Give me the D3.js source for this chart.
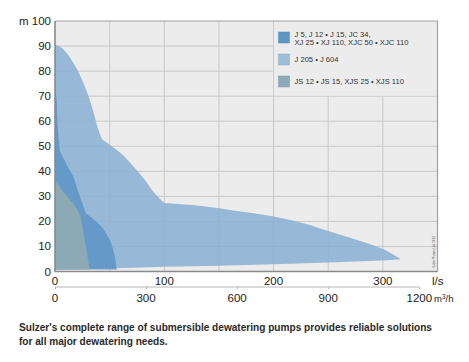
<!DOCTYPE html>
<html>
<head>
<meta charset="utf-8">
<script src="https://cdn.jsdelivr.net/npm/d3@7"></script>
<style>
  body { margin: 0; background: #fff; }
  text { font-family: "Liberation Sans", Arial, Helvetica, sans-serif; fill: #222; }
</style>
</head>
<body>
<div id="chart"></div>
<script>
// flow in l/s, head in m; upper edges split at their kinks
const lightUpperQ = [[0, 5, 10, 15, 20, 25, 30, 35, 39, 43], [43, 50, 60, 68, 77.6, 84, 90, 100], [100, 130, 160, 200, 230, 250, 275, 300, 316.6]];
const lightUpperH = [[90.5, 89.6, 87.5, 84.5, 80.8, 76.2, 70.8, 64, 57.5, 52.8], [52.8, 50.6, 47.3, 43.8, 39, 35.5, 31.8, 27.3], [27.3, 26.3, 24.6, 22, 19, 16.2, 12.8, 9, 4.9]];
const lightLowerQ = [316.6, 300, 250, 200, 150, 100, 50, 0];
const lightLowerH = [4.9, 4.4, 3.6, 2.9, 2.3, 1.9, 1.2, 0.8];

const darkQ = [[0, 1.2, 2, 3, 4.5], [4.5, 8, 12, 16.7, 20, 22.8, 28.3], [28.3, 35, 42.6, 47, 50.2, 53, 54.8, 56.3, 56.5]];
const darkH = [[72, 70, 62, 55, 48], [48, 45, 41.5, 37.8, 33.5, 29.9, 23.2], [23.2, 21, 17.9, 15, 12.6, 9, 5.9, 1.3, 0.8]];

const jsQ = [[0, 4, 8, 12, 16, 20, 23, 25.5, 27.5, 29.5, 30.8, 31.2]];
const jsH = [[36, 34, 31.5, 29.5, 27.5, 25, 22.5, 17, 12, 7, 3, 0.8]];

const headTicks = [0, 10, 20, 30, 40, 50, 60, 70, 80, 90, 100];
const flowTicks = [0, 100, 200, 300];
const flowGrid = [50, 100, 150, 200, 250, 300];
const m3hTicks = [0, 300, 600, 900, 1200];

const legendLabels = [
  ["J 5, J 12 \u2022 J 15, JC 34,", "XJ 25 \u2022 XJ 110, XJC 50 \u2022 XJC 110"],
  ["J 205 \u2022 J 604"],
  ["JS 12 \u2022 JS 15, XJS 25 \u2022 XJS 110"]
];
const caption = [
  "Sulzer's complete range of submersible dewatering pumps provides reliable solutions",
  "for all major dewatering needs."
];

const W = 469, H = 362;
const plot = { left: 55, right: 437.5, top: 21, bottom: 271.5 };

const svg = d3.select("#chart").append("svg")
  .attr("width", W)
  .attr("height", H);

const x = d3.scaleLinear().domain([0, 350]).range([plot.left, plot.right]);
const y = d3.scaleLinear().domain([0, 100]).range([plot.bottom, plot.top]);
const xm = d3.scaleLinear().domain([0, 1260]).range([plot.left, plot.right]);

// plot background
svg.append("rect")
  .attr("x", plot.left).attr("y", plot.top)
  .attr("width", plot.right - plot.left).attr("height", plot.bottom - plot.top)
  .attr("fill", "#ececec");

// grid
const grid = svg.append("g").attr("stroke", "#c9c9c9").attr("stroke-width", 1);
grid.selectAll(".hg")
  .data(headTicks.slice(1, -1))
  .enter().append("line")
  .attr("x1", plot.left).attr("x2", plot.right)
  .attr("y1", d => y(d)).attr("y2", d => y(d));
grid.selectAll(".vg")
  .data(flowGrid)
  .enter().append("line")
  .attr("y1", plot.top).attr("y2", plot.bottom)
  .attr("x1", d => x(d)).attr("x2", d => x(d));

// areas: smooth upper segments, straight closing edge
const smooth = d3.line().x(d => x(d[0])).y(d => y(d[1])).curve(d3.curveCatmullRom.alpha(0.5));
const straight = d3.line().x(d => x(d[0])).y(d => y(d[1]));
const zip = (qs, hs) => qs.map((q, i) => [q, hs[i]]);

function shape(qSegs, hSegs, backQ, backH) {
  let d = "";
  qSegs.forEach((qs, i) => {
    const p = smooth(zip(qs, hSegs[i]));
    d += i === 0 ? p : "L" + p.slice(1);
  });
  d += "L" + straight(zip(backQ, backH)).slice(1);
  return d + "Z";
}

svg.append("path")
  .attr("d", shape(lightUpperQ, lightUpperH, lightLowerQ, lightLowerH))
  .attr("fill", "#88afd2")
  .attr("fill-opacity", 0.85);

svg.append("path")
  .attr("d", shape(darkQ, darkH, [56.5, 0], [0.8, 0.8]))
  .attr("fill", "#5a93c6")
  .attr("fill-opacity", 0.85);

svg.append("path")
  .attr("d", shape(jsQ, jsH, [31.2, 0], [0.8, 0.8]))
  .attr("fill", "#8faab3")
  .attr("fill-opacity", 0.95);

// legend panel
svg.append("rect")
  .attr("x", x(200) + 0.5).attr("y", plot.top)
  .attr("width", plot.right - x(200) - 0.5).attr("height", y(70) - plot.top - 0.5)
  .attr("fill", "#ececec");

const swatchColors = ["#5e96c6", "#9dbdd9", "#8eaab8"];
const legendY = [32, 54, 76];
const lg = svg.append("g");
legendLabels.forEach((lines, i) => {
  lg.append("rect")
    .attr("x", 278.5).attr("y", legendY[i])
    .attr("width", 11).attr("height", 11)
    .attr("fill", swatchColors[i])
    .attr("stroke", d3.color(swatchColors[i]).darker(0.3))
    .attr("stroke-width", 0.5);
  const t = lg.append("text")
    .attr("x", 294.5)
    .attr("y", lines.length > 1 ? legendY[i] + 5 : legendY[i] + 8)
    .style("font-size", "7.6px")
    .style("fill", "#333");
  lines.forEach((s, j) => {
    t.append("tspan").attr("x", 294.5).attr("dy", j === 0 ? 0 : 8).text(s);
  });
});

// frame
svg.append("path")
  .attr("d", `M${plot.left},${plot.top}H${plot.right}V${plot.bottom}`)
  .attr("fill", "none").attr("stroke", "#a0a0a0").attr("stroke-width", 1.2);
svg.append("path")
  .attr("d", `M${plot.left},${plot.top}V${plot.bottom}H${plot.right}`)
  .attr("fill", "none").attr("stroke", "#8a8a8a").attr("stroke-width", 1.6);

// y labels
svg.selectAll(".yl")
  .data(headTicks)
  .enter().append("text")
  .attr("x", plot.left - 4)
  .attr("y", d => y(d) + 4)
  .attr("text-anchor", "end")
  .style("font-size", "11.5px")
  .text(d => d === 100 ? "m 100" : d);

// l/s labels
svg.selectAll(".xl")
  .data(flowTicks)
  .enter().append("text")
  .attr("x", d => x(d))
  .attr("y", 285)
  .attr("text-anchor", "middle")
  .style("font-size", "11.5px")
  .text(d => d);
svg.append("text")
  .attr("x", 432).attr("y", 285)
  .style("font-size", "11.5px")
  .text("l/s");

// m3/h axis
const axM = svg.append("g")
  .attr("transform", "translate(0,287)")
  .call(d3.axisBottom(xm).tickValues(m3hTicks).tickSize(2).tickSizeOuter(0).tickFormat(""));
axM.select(".domain").attr("d", `M${xm(0)},0H${xm(1200)}`).attr("stroke", "#b5b5b5").attr("stroke-width", 1.2);
axM.selectAll(".tick line").attr("stroke", "#b5b5b5");

svg.selectAll(".ml")
  .data(m3hTicks)
  .enter().append("text")
  .attr("x", d => xm(d))
  .attr("y", 302)
  .attr("text-anchor", "middle")
  .style("font-size", "11.5px")
  .text(d => d);
const mu = svg.append("text")
  .attr("x", 434).attr("y", 302)
  .style("font-size", "9.5px");
mu.append("tspan").text("m");
mu.append("tspan").attr("dy", -3.5).style("font-size", "6.5px").text("3");
mu.append("tspan").attr("dy", 3.5).text("/h");

// tiny vertical note
svg.append("text")
  .attr("transform", "translate(435,268) rotate(-90)")
  .style("font-size", "3px")
  .style("fill", "#555")
  .text("Sulzer Pumps Ltd. 2013");

// caption
svg.selectAll(".cap")
  .data(caption)
  .enter().append("text")
  .attr("x", 19)
  .attr("y", (d, i) => 331 + i * 14)
  .style("font-size", "10.1px")
  .style("font-weight", "bold")
  .style("fill", "#2a2a2a")
  .text(d => d);
</script>
</body>
</html>
